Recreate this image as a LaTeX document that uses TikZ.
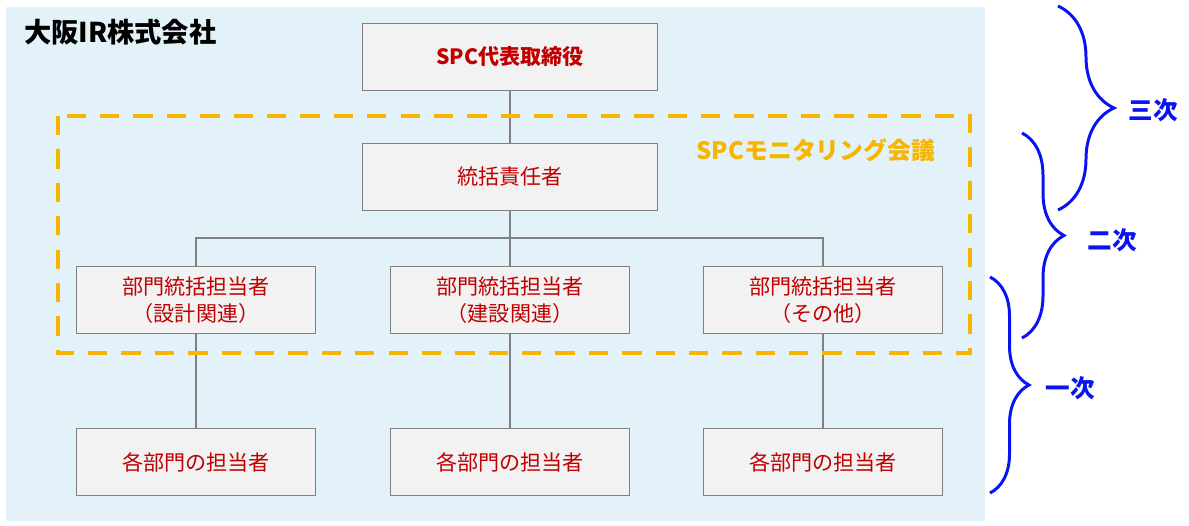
\documentclass[tikz,border=0pt]{standalone}
\usepackage{fontspec}
\usepackage{xcolor}
\usepackage{tikz}
\setmainfont{Noto Sans CJK JP}
\usetikzlibrary{positioning,calc,decorations.pathreplacing}

\definecolor{bgblue}{HTML}{E3F2F9}
\definecolor{boxgray}{HTML}{F2F2F2}
\definecolor{linegray}{HTML}{808080}
\definecolor{txtred}{HTML}{C00000}
\definecolor{meetorange}{HTML}{F7B500}
\definecolor{bracblue}{HTML}{0A14F0}

\begin{document}
\begin{tikzpicture}[
    x=0.02cm, y=-0.02cm,
    orgbox/.style={rectangle, draw=linegray, fill=boxgray, line width=0.9pt,
        minimum width=4.78cm, minimum height=1.34cm, align=center,
        text=txtred, font=\fontsize{12}{15}\selectfont},
    topbox/.style={orgbox, minimum width=5.9cm},
    link/.style={draw=linegray, line width=1.1pt},
    level/.style={draw=bracblue, line width=1.7pt,
        decorate, decoration={brace, amplitude=#1}},
    leveltext/.style={text=bracblue, font=\fontsize{14}{16}\selectfont\bfseries}
]
    \useasboundingbox (0,0) rectangle (1189,525);
    \fill[bgblue] (6,7) rectangle (985,521);
    \node[anchor=west, font=\fontsize{15.5}{18}\selectfont\bfseries] (company) at (18,32) {大阪IR株式会社};

    % boxes
    \node[topbox, font=\fontsize{12}{15}\selectfont\bfseries] (spc) at (510,57) {SPC代表取締役};
    \node[topbox] (chief) at (510,177) {統括責任者};
    \node[orgbox] (dept1) at (196,300) {部門統括担当者\\（設計関連）};
    \node[orgbox] (dept2) at (510,300) {部門統括担当者\\（建設関連）};
    \node[orgbox] (dept3) at (823,300) {部門統括担当者\\（その他）};
    \node[orgbox] (staff1) at (196,462) {各部門の担当者};
    \node[orgbox] (staff2) at (510,462) {各部門の担当者};
    \node[orgbox] (staff3) at (823,462) {各部門の担当者};

    % connectors
    \coordinate (bus) at (510,238);
    \draw[link] (spc) -- (chief);
    \draw[link] (chief) -- (bus);
    \draw[link] (dept1.north) |- (bus) -| (dept3.north);
    \draw[link] (bus) -- (dept2);
    \foreach \i in {1,2,3}
        \draw[link] (dept\i) -- (staff\i);

    % monitoring meeting
    \draw[meetorange, line width=2.3pt, dash pattern=on 11pt off 8pt]
        (58,116) rectangle (970,353);
    \node[text=meetorange, font=\fontsize{13.6}{16}\selectfont\bfseries] (meeting) at (816,150) {SPCモニタリング会議};

    % levels
    \draw[level=1.12cm] (1058,6) -- (1058,210);
    \node[leveltext] (third) at (1153,110) {三次};
    \draw[level=0.84cm] (1022,133) -- (1022,338);
    \node[leveltext] (second) at (1112,240) {二次};
    \draw[level=0.78cm] (990,277) -- (990,493);
    \node[leveltext] (first) at (1070,388) {一次};
\end{tikzpicture}
\end{document}
